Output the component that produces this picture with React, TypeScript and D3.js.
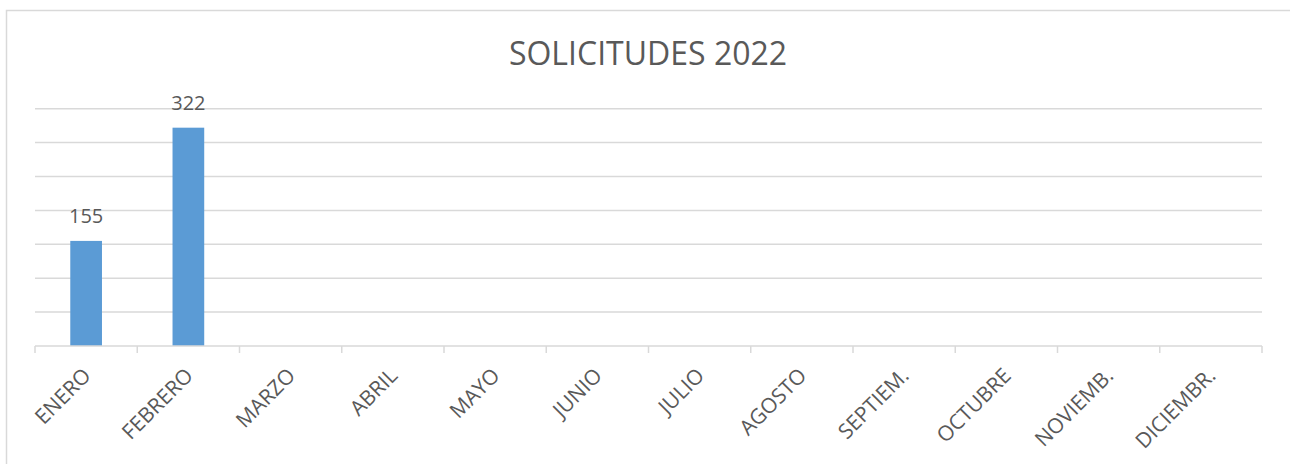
import React from "react";
import * as d3 from "d3";

const months = [
  "ENERO",
  "FEBRERO",
  "MARZO",
  "ABRIL",
  "MAYO",
  "JUNIO",
  "JULIO",
  "AGOSTO",
  "SEPTIEM.",
  "OCTUBRE",
  "NOVIEMB.",
  "DICIEMBR.",
];
const values: (number | null)[] = [155, 322, null, null, null, null, null, null, null, null, null, null];
const yTicks = [0, 50, 100, 150, 200, 250, 300, 350];

const W = 1290;
const H = 464;
const left = 35;
const right = 1262;
const bottom = 346;
const top = 108.7;

const font = "'Open Sans', 'Liberation Sans', sans-serif";
const textColor = "#595959";
const gridColor = "#D9D9D9";

export default function App() {
  // slots for ticks and labels
  const slot = d3.scaleBand<string>().domain(months).range([left, right]);
  // bars, about a third of the slot
  const x = d3
    .scaleBand<string>()
    .domain(months)
    .range([left, right])
    .paddingInner(0.69)
    .paddingOuter(0.345);
  const y = d3.scaleLinear().domain([0, 350]).range([bottom, top]);

  return (
    <svg
      width={W}
      height={H}
      style={{ position: "absolute", left: 0, top: 0, background: "#fff" }}
    >
      <rect x={6.5} y={10.5} width={W + 10} height={H + 10} fill="#fff" stroke={gridColor} strokeWidth={1.5} />

      <text
        x={648}
        y={65}
        textAnchor="middle"
        fontFamily={font}
        fontSize={32}
        fill={textColor}
      >
        SOLICITUDES 2022
      </text>

      {yTicks
        .filter((t) => t > 0)
        .map((t) => (
          <line key={t} x1={left} x2={right} y1={y(t)} y2={y(t)} stroke={gridColor} strokeWidth={1.5} />
        ))}

      {months.map((m, i) =>
        values[i] == null ? null : (
          <g key={m}>
            <rect
              x={x(m)}
              y={y(values[i] as number)}
              width={x.bandwidth()}
              height={bottom - y(values[i] as number)}
              fill="#5B9BD5"
            />
            <text
              x={(x(m) as number) + x.bandwidth() / 2}
              y={y(values[i] as number) - 18}
              textAnchor="middle"
              fontFamily={font}
              fontSize={20}
              fill={textColor}
            >
              {values[i]}
            </text>
          </g>
        )
      )}

      <line x1={left} x2={right} y1={bottom} y2={bottom} stroke={gridColor} strokeWidth={1.5} />
      {months.map((m) => (
        <line
          key={m}
          x1={slot(m)}
          x2={slot(m)}
          y1={bottom}
          y2={bottom + 7}
          stroke={gridColor}
          strokeWidth={1.5}
        />
      ))}
      <line x1={right} x2={right} y1={bottom} y2={bottom + 7} stroke={gridColor} strokeWidth={1.5} />

      {months.map((m) => {
        const cx = (slot(m) as number) + slot.bandwidth() / 2;
        return (
          <text
            key={m}
            transform={`translate(${cx + 6},${377}) rotate(-45)`}
            textAnchor="end"
            fontFamily={font}
            fontSize={21}
            fill={textColor}
          >
            {m}
          </text>
        );
      })}
    </svg>
  );
}
